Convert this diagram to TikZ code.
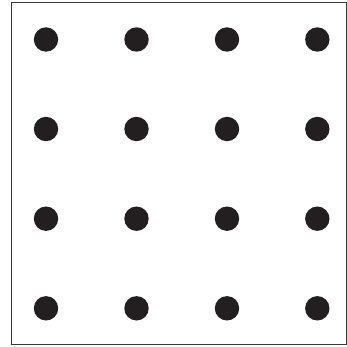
\documentclass[tikz,border=0pt]{standalone}
\usepackage{tikz}
\usetikzlibrary{positioning}
\definecolor{dotblack}{HTML}{231F20}
\definecolor{framegray}{HTML}{3A3A3A}

\begin{document}
\begin{tikzpicture}[
  x=0.025cm,
  y=-0.025cm,
  dot/.style={
    circle,
    fill=dotblack,
    inner sep=0pt,
    minimum size=6.1mm
  },
  frame/.style={draw=framegray,line width=.6pt}
]
  \useasboundingbox (0,0) rectangle (347,347);

  \coordinate (f1) at ( 11,  2.5);
  \coordinate (f2) at (346.5,344);

  \draw[frame] (f1) rectangle (f2);

  \coordinate (p11) at ( 46,  39.5);
  \coordinate (p12) at (136.5, 39.5);
  \coordinate (p13) at (227,  39.5);
  \coordinate (p14) at (317.3, 39.5);

  \coordinate (p21) at ( 46, 129);
  \coordinate (p22) at (136.5,129);
  \coordinate (p23) at (227, 129);
  \coordinate (p24) at (317.3,129);

  \coordinate (p31) at ( 46, 218.7);
  \coordinate (p32) at (136.5,218.7);
  \coordinate (p33) at (227, 218.7);
  \coordinate (p34) at (317.3,218.7);

  \coordinate (p41) at ( 46, 308.3);
  \coordinate (p42) at (136.5,308.3);
  \coordinate (p43) at (227, 308.3);
  \coordinate (p44) at (317.3,308.3);

  \node[dot] (d11) at (p11) {};
  \node[dot] (d12) at (p12) {};
  \node[dot] (d13) at (p13) {};
  \node[dot] (d14) at (p14) {};

  \node[dot] (d21) at (p21) {};
  \node[dot] (d22) at (p22) {};
  \node[dot] (d23) at (p23) {};
  \node[dot] (d24) at (p24) {};

  \node[dot] (d31) at (p31) {};
  \node[dot] (d32) at (p32) {};
  \node[dot] (d33) at (p33) {};
  \node[dot] (d34) at (p34) {};

  \node[dot] (d41) at (p41) {};
  \node[dot] (d42) at (p42) {};
  \node[dot] (d43) at (p43) {};
  \node[dot] (d44) at (p44) {};
\end{tikzpicture}
\end{document}
